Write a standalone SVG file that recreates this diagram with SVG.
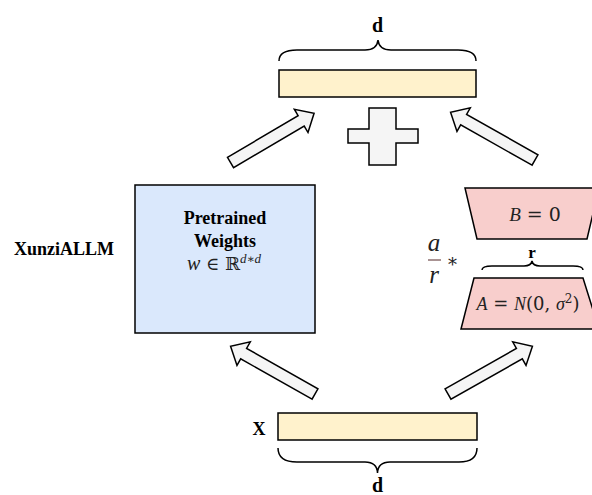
<svg xmlns="http://www.w3.org/2000/svg" xmlns:xlink="http://www.w3.org/1999/xlink" width="592" height="495" viewBox="0 0 592 495">
<style>
.bar{fill:#fff2cc;stroke:#000;stroke-width:1.5}
.blue{fill:#dae8fc;stroke:#000;stroke-width:1.5}
.pink{fill:#f8cecc;stroke:#000;stroke-width:1.5}
.arr{fill:#f5f5f5;stroke:#000;stroke-width:1.5;stroke-linejoin:miter}
.brace{fill:none;stroke:#000;stroke-width:1.5}
.lbl{font-family:"Liberation Serif","Times New Roman",serif;font-weight:bold;fill:#000}
.math{font-family:"DejaVu Serif","Liberation Serif",serif;fill:#222}
.mi{font-family:"Liberation Serif","DejaVu Serif",serif;font-style:italic;fill:#222}
</style>
<defs>
<path id="arrow" d="M0,-6 H82 V-13.5 L97,0 L82,13.5 V6 H0 Z"/>
</defs>
<rect width="592" height="495" fill="#fff"/>

<g id="output-bar">
<rect class="bar" x="279" y="70" width="197" height="27"/>
<path class="brace" d="M279,61 Q279,50 297,50 L365,50 Q377,50 378,40 Q379,50 391,50 L458,50 Q476,50 476,61"/>
<text class="lbl" x="377.5" y="32" font-size="20" text-anchor="middle">d</text>
</g>

<g id="plus">
<path class="arr" d="M369,108 H396 V129 H418 V143 H396 V165 H369 V143 H348 V129 H369 Z"/>
</g>

<g id="xunzi-label">
<text class="lbl" x="64" y="255" font-size="18" text-anchor="middle">XunziALLM</text>
</g>

<g id="pretrained">
<rect class="blue" x="135" y="185" width="180" height="148"/>
<text class="lbl" x="225" y="224" font-size="18" text-anchor="middle">Pretrained</text>
<text class="lbl" x="225" y="247" font-size="18" text-anchor="middle">Weights</text>
<text x="224" y="270" font-size="18" text-anchor="middle"><tspan class="mi" font-size="20">w</tspan><tspan class="math"> ∈ ℝ</tspan><tspan class="mi" font-size="13" dy="-7">d</tspan><tspan class="math" font-size="12">∗</tspan><tspan class="mi" font-size="13">d</tspan></text>
</g>

<g id="matrix-b">
<polygon class="pink" points="465,188 599,188 587,239 477,239"/>
<text x="535" y="221" font-size="19" text-anchor="middle"><tspan class="mi">B</tspan><tspan class="math"> = 0</tspan></text>
</g>

<g id="rank">
<path class="brace" d="M482,270 Q482,266 492,266 L524,266 Q531,266 532,261 Q533,266 540,266 L573,266 Q583,266 583,270"/>
<text class="lbl" x="532" y="258" font-size="17" text-anchor="middle">r</text>
</g>

<g id="matrix-a">
<polygon class="pink" points="474,278 583,278 599,329 461,329"/>
<text x="528" y="310" font-size="18" text-anchor="middle"><tspan class="mi">A</tspan><tspan class="math"> = </tspan><tspan class="mi">N</tspan><tspan class="math">(0, </tspan><tspan class="mi">σ</tspan><tspan class="math" font-size="12" dy="-7">2</tspan><tspan class="math" dy="7">)</tspan></text>
</g>

<g id="scale">
<text class="mi" x="434" y="251" font-size="25" text-anchor="middle">a</text>
<line x1="428" y1="260" x2="441" y2="260" stroke="#8c6f6f" stroke-width="1.5"/>
<text class="mi" x="434" y="283" font-size="25" text-anchor="middle">r</text>
<text class="math" x="452.5" y="271" font-size="18" text-anchor="middle">*</text>
</g>

<g id="input-bar">
<rect class="bar" x="278" y="413" width="199" height="27"/>
<text class="lbl" x="259" y="435" font-size="18" text-anchor="middle">X</text>
<path class="brace" d="M278,448 Q278,462 297,462 L365,462 Q377,462 377.5,473 Q378,462 390,462 L459,462 Q477,462 477,448"/>
<text class="lbl" x="377.5" y="492" font-size="20" text-anchor="middle">d</text>
</g>

<g id="connectors">
<use xlink:href="#arrow" class="arr" transform="translate(230.5,162.5) rotate(-30.5)"/>
<use xlink:href="#arrow" class="arr" transform="translate(535,160) rotate(-150.5)"/>
<use xlink:href="#arrow" class="arr" transform="translate(315,394) rotate(-150.5)"/>
<use xlink:href="#arrow" class="arr" transform="translate(448,394) rotate(-29.5)"/>
</g>
</svg>
